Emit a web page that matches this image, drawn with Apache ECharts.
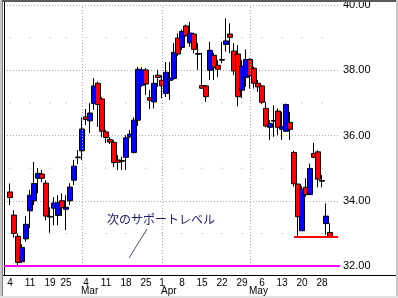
<!DOCTYPE html>
<html><head><meta charset="utf-8">
<script src="https://cdn.jsdelivr.net/npm/echarts@6/dist/echarts.min.js"></script>
<style>
html,body{margin:0;padding:0;background:#fff;}
#wrap{position:relative;width:398px;height:298px;overflow:hidden;background:#fff;}
#chart{position:absolute;left:0;top:0;width:398px;height:298px;}
.b{position:absolute;pointer-events:none;}
</style></head><body>
<div id="wrap"><div id="chart"></div>
<div class="b" style="left:0;top:0;width:398px;height:2px;background:#5a5a5a"></div>
<div class="b" style="left:0;top:0;width:2px;height:298px;background:#c8c8c8"></div>
<div class="b" style="left:2px;top:2px;width:1px;height:296px;background:#808080"></div>
<div class="b" style="left:396px;top:0;width:2px;height:298px;background:#c8c8c8"></div>
<div class="b" style="left:0;top:296px;width:398px;height:2px;background:#e0e0e0"></div>
</div>
<script>
const tradeDates = ['2/4','2/5','2/6','2/7','2/8','2/11','2/12','2/13','2/14','2/15','2/19','2/20','2/21','2/22','2/25','2/26','2/27','2/28',
'3/1','3/4','3/5','3/6','3/7','3/8','3/11','3/12','3/13','3/14','3/15','3/18','3/19','3/20','3/21','3/22','3/25','3/26','3/27','3/28',
'4/1','4/2','4/3','4/4','4/5','4/8','4/9','4/10','4/11','4/12','4/15','4/16','4/17','4/18','4/19','4/22','4/23','4/24','4/25','4/26','4/29','4/30',
'5/1','5/2','5/3','5/6','5/7','5/8','5/9','5/10','5/13','5/14','5/15','5/16','5/17','5/20','5/21','5/22','5/23','5/24','5/28','5/29','5/30'];
const padBefore = ['2/1'];
const padAfter = ['5/31','6/3'];

const opens = [34.27,33.56,32.91,32.13,32.83,33.69,34.00,34.69,34.82,34.54,
33.52,33.77,33.55,34.00,33.74,34.00,34.63,35.32,35.53,36.57,
36.45,36.98,37.60,37.12,36.11,35.88,35.79,35.25,35.21,35.33,
35.96,35.48,36.47,37.54,38.01,37.16,37.03,37.85,37.70,37.29,
37.69,37.75,38.99,38.70,39.36,38.84,39.11,38.49,37.53,37.52,
38.00,38.46,38.15,38.31,38.79,39.11,38.59,38.50,37.39,37.78,
38.33,38.06,37.60,37.52,36.83,36.25,36.44,36.75,36.19,36.13,
36.40,35.48,34.51,33.08,34.41,34.19,35.45,35.50,34.60,33.30,
33.03];
const closes = [34.10,33.00,32.11,32.57,33.28,34.17,34.53,34.84,34.69,33.53,
33.50,33.93,33.94,33.79,33.80,34.42,35.06,35.34,36.20,36.49,
36.69,37.52,36.95,36.13,35.94,35.80,35.17,35.18,35.23,35.93,
36.04,36.47,38.03,38.01,37.58,37.08,37.60,37.78,37.52,37.94,
37.76,38.55,38.50,39.19,39.06,39.14,38.64,38.51,37.45,37.19,
38.61,38.08,38.03,38.33,38.90,39.01,37.98,37.19,38.13,38.33,
37.83,37.60,37.49,37.02,36.29,36.37,36.46,36.25,36.27,36.95,
36.19,34.52,33.51,34.36,34.19,34.99,35.33,34.66,34.62,33.53,
32.89];
const lows = [33.87,32.87,31.98,32.09,32.74,33.16,33.87,34.23,34.57,33.40,
33.02,33.25,33.25,33.53,33.10,33.87,34.48,35.12,35.25,36.32,
36.07,36.78,36.26,35.95,35.77,35.74,35.03,34.94,34.94,34.94,
35.92,35.45,36.29,37.49,37.24,36.81,36.83,37.49,37.14,37.18,
37.09,37.70,38.44,38.62,39.03,38.72,38.52,38.01,37.43,37.03,
37.70,37.70,37.79,38.21,38.57,38.52,37.85,36.90,37.14,37.49,
37.44,37.44,37.34,36.96,36.25,35.86,35.96,36.01,35.86,36.11,
35.86,34.43,32.89,33.08,34.12,34.17,35.31,34.41,34.41,32.95,
32.89];
const highs = [34.53,33.71,33.00,32.67,33.53,34.33,35.19,35.00,34.94,34.63,
33.80,34.11,34.17,34.23,34.17,34.54,35.25,35.55,36.56,36.81,
36.99,37.76,37.65,37.18,36.17,35.95,35.86,35.40,35.35,36.01,
36.17,36.56,38.11,38.09,38.07,37.39,37.85,38.01,37.85,38.25,
38.25,38.83,39.13,39.25,39.40,39.48,39.15,38.83,38.53,37.55,
38.87,38.53,38.31,38.87,39.59,39.44,38.83,38.77,38.31,38.64,
38.37,38.11,37.70,37.55,37.03,36.47,36.93,36.83,36.73,36.98,
36.73,35.53,34.53,34.45,34.69,35.14,35.77,35.55,34.79,33.92,
33.31];

const weekLabels = ['2/4','2/11','2/19','2/25','3/4','3/11','3/18','3/25','4/1','4/8','4/15','4/22','4/29','5/6','5/13','5/20','5/28'];
const monthStarts = ['3/1','4/1','5/1'];
const monthNames = ['Mar','Apr','May'];
const minorLevels = [33, 35, 37, 39];
const bottomLevel = 32.0;
const supportLevel = 32.9;
const supportStart = '5/16';
const noteText = '次のサポートレベル';

const categories = padBefore.concat(tradeDates, padAfter);
const source = tradeDates.map((d, i) => [d, opens[i], closes[i], lows[i], highs[i]]);
const dots = [];
weekLabels.forEach(w => minorLevels.forEach(v => dots.push([w, v])));

const FONT = "'Liberation Sans', Arial, sans-serif";
const chart = echarts.init(document.getElementById('chart'), null, {renderer: 'canvas'});
chart.setOption({
  animation: false,
  backgroundColor: 'transparent',
  dataset: [{source: source}],
  grid: [
    {left: 4, right: 58, top: 5, bottom: 32, outerBoundsMode: 'none'},
    {left: 3, right: 0, top: 0, bottom: 23, outerBoundsMode: 'none'},
    {left: 4, right: 58, top: 0, bottom: 23, outerBoundsMode: 'none'}
  ],
  xAxis: [
    {
      type: 'category', gridIndex: 0, data: categories, boundaryGap: true, offset: 9,
      axisLine: {show: false}, axisTick: {show: false}, splitLine: {show: false},
      axisLabel: {
        interval: (idx, val) => weekLabels.indexOf(val) >= 0,
        formatter: val => val.split('/')[1],
        margin: 3, fontSize: 10, color: '#000', fontFamily: FONT, align: 'center'
      }
    },
    {type: 'value', gridIndex: 1, min: 0, max: 1, axisLine: {show: true, lineStyle: {color: '#000', width: 1}},
     axisTick: {show: false}, axisLabel: {show: false}, splitLine: {show: false}},
    {type: 'value', gridIndex: 2, min: 0, max: 1, show: false},
    {
      type: 'category', gridIndex: 0, data: categories, boundaryGap: true, offset: 9, position: 'bottom',
      axisLine: {show: false}, axisTick: {show: false}, splitLine: {show: false},
      axisLabel: {
        interval: (idx, val) => monthStarts.indexOf(val) >= 0,
        formatter: val => monthNames[monthStarts.indexOf(val)],
        margin: 11, fontSize: 10, color: '#000', fontFamily: FONT, align: 'left', padding: [0, 0, 0, -1]
      }
    }
  ],
  yAxis: [
    {
      type: 'value', gridIndex: 0, position: 'right', min: 32, max: 40, interval: 2,
      axisLine: {show: false}, axisTick: {show: false},
      axisLabel: {formatter: v => v.toFixed(2), margin: 3, fontSize: 11, color: '#000', fontFamily: FONT},
      splitLine: {show: true, lineStyle: {color: '#a8a8a8', width: 1, type: [1, 2]}}
    },
    {type: 'value', gridIndex: 1, min: 0, max: 1, show: false},
    {type: 'value', gridIndex: 2, min: 0, max: 1, position: 'right',
     axisLine: {show: true, lineStyle: {color: '#000', width: 1}}, axisTick: {show: false},
     axisLabel: {show: false}, splitLine: {show: false}}
  ],
  series: [
    {
      type: 'scatter', xAxisIndex: 0, yAxisIndex: 0, data: dots, symbol: 'rect', symbolSize: 1,
      itemStyle: {color: '#8c8c8c'}, silent: true, z: 1
    },
    {
      type: 'candlestick', xAxisIndex: 0, yAxisIndex: 0, datasetIndex: 0,
      encode: {x: 0, y: [1, 2, 3, 4]},
      barWidth: 5, barMaxWidth: 5,
      itemStyle: {color: '#0000ff', color0: '#ff0000', borderColor: '#000', borderColor0: '#000', borderColorDoji: '#000', borderWidth: 1},
      z: 3,
      markLine: {
        silent: true, symbol: ['none', 'none'], label: {show: false}, animation: false,
        data: monthStarts.map(d => ({xAxis: d, lineStyle: {color: '#a8a8a8', width: 1, type: [1, 2]}}))
          .concat([
            {yAxis: bottomLevel, lineStyle: {color: '#ff00ff', width: 2, type: 'solid'}},
            [{coord: [supportStart, supportLevel], lineStyle: {color: '#ff0000', width: 2, type: 'solid'}},
             {coord: [categories[categories.length - 1], supportLevel]}]
          ])
      }
    }
  ],
  graphic: [
    {type: 'text', left: 107, top: 213, style: {text: noteText, fill: '#1c1c66', font: "12px 'Noto Sans CJK JP', sans-serif"}, z: 10},
    {type: 'line', shape: {x1: 129, y1: 258, x2: 147, y2: 229}, style: {stroke: '#4a4a8c', lineWidth: 1}, z: 10}
  ]
});
</script>
</body></html>
